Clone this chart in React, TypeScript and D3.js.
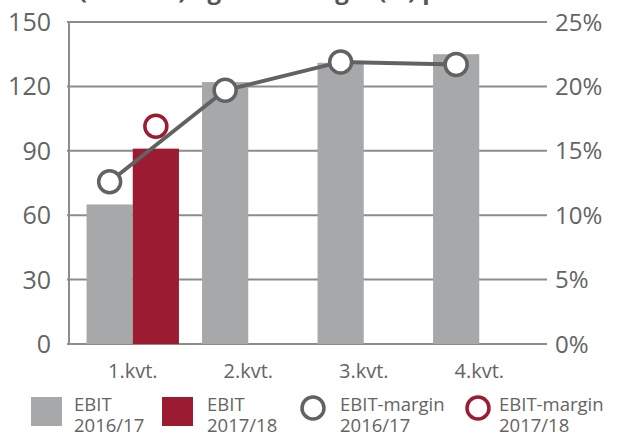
import React from 'react';
import * as d3 from 'd3';

// quarters on the x axis
const categories = ['1.kvt.', '2.kvt.', '3.kvt.', '4.kvt.'];
const seriesNames = ['2016/17', '2017/18'];

// EBIT (bars, left axis)
const ebit1617 = [65, 122, 131, 135];
const ebit1718 = [91];

// EBIT-margin % (circles, right axis)
const margin1617 = [12.6, 19.7, 21.9, 21.7];
const margin1718 = [16.9];

const leftTicks = [0, 30, 60, 90, 120, 150];
const rightTicks = [0, 5, 10, 15, 20, 25];

const W = 621;
const H = 436;
const FONT = '"Open Sans", sans-serif';
const TEXT = '#646464';
const GRID = '#8c8c8c';
const GREY = '#a7a8aa';
const RED = '#9b1b30';
const LINE = '#626262';

const App = () => {
  const plot = { left: 69, right: 547, top: 22, bottom: 344 };

  const yLeft = d3.scaleLinear().domain([0, 150]).range([plot.bottom, plot.top]);
  const yRight = d3.scaleLinear().domain([0, 25]).range([plot.bottom, plot.top]);

  const x0 = d3.scaleBand<string>()
    .domain(categories)
    .range([75, 537])
    .paddingInner(0.2)
    .paddingOuter(0.1);

  const x1 = d3.scaleBand<string>()
    .domain(seriesNames)
    .range([0, x0.bandwidth()]);

  const barData = [
    ...ebit1617.map((v, i) => ({ cat: categories[i], s: seriesNames[0], v })),
    ...ebit1718.map((v, i) => ({ cat: categories[i], s: seriesNames[1], v })),
  ];

  const cx = (i: number, s: string) => (x0(categories[i]) || 0) + (x1(s) || 0) + x1.bandwidth() / 2;

  const line = d3.line<number>()
    .x((d, i) => cx(i, seriesNames[0]))
    .y(d => yRight(d));

  return (
    <svg
      width={W}
      height={H}
      style={{ position: 'absolute', left: 0, top: 0, background: '#fff' }}
      fontFamily={FONT}
    >
      {/* title, mostly cut off above the frame */}
      <text x={21} y={-1} fontSize={24} fontWeight={700} fill="#555">
        EBIT (mio. kr.) og EBIT-margin (%) pr. kvartal
      </text>

      {/* grid lines */}
      {leftTicks.map(t => (
        <line
          key={'g' + t}
          x1={plot.left - 2}
          x2={plot.right}
          y1={yLeft(t)}
          y2={yLeft(t)}
          stroke={GRID}
          strokeWidth={2}
        />
      ))}
      <line x1={plot.left} x2={plot.left} y1={plot.top} y2={plot.bottom + 1} stroke={GRID} strokeWidth={2} />

      {/* bars */}
      {barData.map(d => (
        <rect
          key={d.cat + d.s}
          x={(x0(d.cat) || 0) + (x1(d.s) || 0)}
          width={x1.bandwidth()}
          y={yLeft(d.v)}
          height={yLeft(0) - yLeft(d.v)}
          fill={d.s === seriesNames[0] ? GREY : RED}
        />
      ))}

      {/* margin line */}
      <path d={line(margin1617) || ''} fill="none" stroke={LINE} strokeWidth={4} />
      {margin1617.map((v, i) => (
        <circle key={'m' + i} cx={cx(i, seriesNames[0])} cy={yRight(v)} r={11} fill="#fff" stroke={LINE} strokeWidth={3.5} />
      ))}
      {margin1718.map((v, i) => (
        <circle key={'r' + i} cx={cx(i, seriesNames[1])} cy={yRight(v)} r={11} fill="#fff" stroke={RED} strokeWidth={3.5} />
      ))}

      {/* left axis labels */}
      {leftTicks.map(t => (
        <text key={'l' + t} x={51} y={yLeft(t)} dy="0.36em" textAnchor="end" fontSize={25} fill={TEXT}>
          {t}
        </text>
      ))}

      {/* right axis labels */}
      {rightTicks.map(t => (
        <text key={'r' + t} x={555} y={yRight(t)} dy="0.36em" textAnchor="start" fontSize={24} fill={TEXT}>
          {t}%
        </text>
      ))}

      {/* x labels */}
      {categories.map(c => (
        <text key={c} x={(x0(c) || 0) + x0.bandwidth() / 2} y={378} textAnchor="middle" fontSize={20} fill={TEXT}>
          {c}
        </text>
      ))}

      {/* legend */}
      <g fontSize={18.5} fill={TEXT}>
        <rect x={31} y={397} width={31} height={29} fill={GREY} />
        <text x={74} y={411}>EBIT</text>
        <text x={74} y={432}>2016/17</text>

        <rect x={162} y={397} width={31} height={29} fill={RED} />
        <text x={207} y={411}>EBIT</text>
        <text x={207} y={432}>2017/18</text>

        <circle cx={313} cy={408} r={11} fill="#fff" stroke={LINE} strokeWidth={3.5} />
        <text x={340} y={411}>EBIT-margin</text>
        <text x={340} y={432}>2016/17</text>

        <circle cx={478} cy={408} r={11} fill="#fff" stroke={RED} strokeWidth={3.5} />
        <text x={499} y={411}>EBIT-margin</text>
        <text x={499} y={432}>2017/18</text>
      </g>
    </svg>
  );
};

export default App;
